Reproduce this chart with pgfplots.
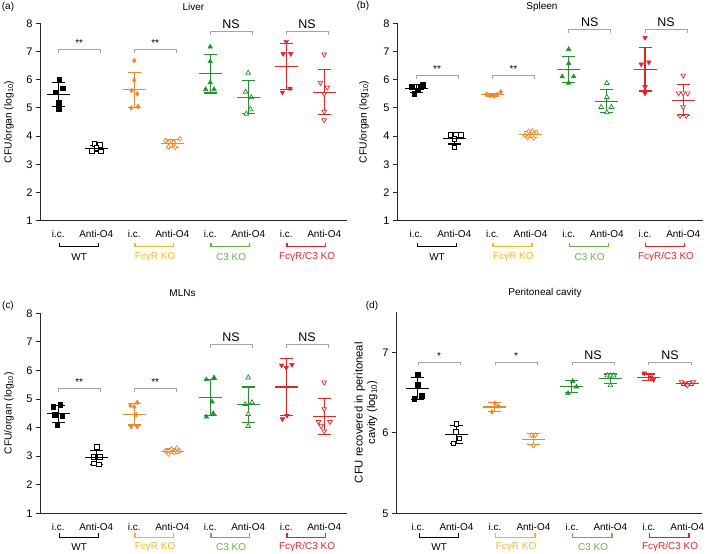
\documentclass[border=0pt]{standalone}
\usepackage{fontspec}
\setmainfont{Liberation Sans}
\usepackage{pgfplots}
\pgfplotsset{compat=1.18}
\definecolor{cor}{RGB}{240,135,45}
\definecolor{cyl}{RGB}{247,182,40}
\definecolor{cgr}{RGB}{35,145,45}
\definecolor{clg}{RGB}{105,180,70}
\definecolor{cre}{RGB}{232,35,40}
\definecolor{sgr}{RGB}{165,165,165}
\pgfplotsset{
 panel/.style={scale only axis, clip=false, anchor=south west,
  axis x line*=bottom, axis y line*=left,
  axis line style={line width=0.9bp, black!85},
  tick align=outside, major tick length=4bp,
  ytick style={line width=0.9bp, black!85},
  xtick={0,...,7},
  xticklabels={i.c.,Anti-O4,i.c.,Anti-O4,i.c.,Anti-O4,i.c.,Anti-O4},
  xtick style={draw=none},
  xticklabel style={font=\fontsize{10}{12}\selectfont, yshift=-2bp},
  yticklabel style={font=\fontsize{11}{12}\selectfont},
  /pgf/number format/assume math mode=true,
  title style={font=\fontsize{10}{12}\selectfont, at={(axis description cs:0.5,1)}, anchor=center},
  ylabel style={font=\fontsize{10.3}{12}\selectfont, anchor=center}},
 wtf/.style={only marks, mark=square*, mark size=2.3bp, mark options={draw=black, fill=black}},
 wto/.style={only marks, mark=square*, mark size=2.3bp, mark options={draw=black, fill=white, line width=0.7bp}},
 fcf/.style={only marks, mark=diamond*, mark size=2.4bp, mark options={draw=cor, fill=cor}},
 fco/.style={only marks, mark=diamond*, mark size=2.4bp, mark options={draw=cor, fill=white, line width=0.7bp}},
 c3f/.style={only marks, mark=triangle*, mark size=2.7bp, mark options={draw=cgr, fill=cgr}},
 c3o/.style={only marks, mark=triangle*, mark size=2.7bp, mark options={draw=cgr, fill=white, line width=0.7bp}},
 rdf/.style={only marks, mark=triangle*, mark size=2.7bp, mark options={rotate=180, draw=cre, fill=cre}},
 rdo/.style={only marks, mark=triangle*, mark size=2.7bp, mark options={rotate=180, draw=cre, fill=white, line width=0.7bp}},
}
% mean +- SD
\newcommand{\msd}[4]{\addplot[#4, line width=1.1bp, mark=-, mark size=11.5bp,
  error bars/.cd, y dir=both, y explicit,
  error bar style={line width=1.1bp, #4},
  error mark options={rotate=90, #4, mark size=6.5bp, line width=1.1bp}]
  coordinates {(#1,#2) +- (0,#3)};}
% significance bracket: x0, xmid, x1, y, text
\newcommand{\br}[3]{\draw[sgr, line width=0.8bp] ([yshift=-3.5bp]axis cs:#1,#3) -- (axis cs:#1,#3) -- (axis cs:#2,#3) -- ([yshift=-3.5bp]axis cs:#2,#3);}
\newcommand{\sig}[5]{\br{#1}{#3}{#4}
  \node[anchor=south, inner sep=2.5bp, font=\fontsize{10}{12}\selectfont] at (axis cs:#2,#4) {#5};}
\newcommand{\nsig}[4]{\br{#1}{#3}{#4}
  \node[anchor=south, inner sep=2.5bp, font=\fontsize{12.5}{14}\selectfont] at (axis cs:#2,#4) {NS};}
% group bracket below axis: x0, xmid, x1, ymin, colour, label
\newcommand{\brA}{-22bp}\newcommand{\brB}{-26bp}\newcommand{\nmY}{-36bp}
\newcommand{\gl}[6]{\draw[#5, line width=1.4bp] ([yshift=\brA]axis cs:#1,#4) -- ([yshift=\brB]axis cs:#1,#4) -- ([yshift=\brB]axis cs:#3,#4) -- ([yshift=\brA]axis cs:#3,#4);
  \node[#5, font=\fontsize{10}{12}\selectfont] at ([yshift=\nmY]axis cs:#2,#4) {#6};}
\newcommand{\groups}[1]{\gl{0.04}{0.55}{1.06}{#1}{black}{WT}
  \gl{2.02}{2.55}{3.04}{#1}{cyl}{FcγR KO}
  \gl{4.02}{4.55}{5.04}{#1}{clg}{C3 KO}
  \gl{6.02}{6.55}{7.04}{#1}{cre}{FcγR/C3 KO}}
\begin{document}
\begin{tikzpicture}
\useasboundingbox (0,0) rectangle (709bp,554bp);
% ---------- (a) Liver ----------
\begin{axis}[panel, at={(40bp,333.3bp)}, width=307bp, height=197.4bp,
  xmin=-0.48, xmax=7.6, ymin=1, ymax=8, ytick={1,...,8},
  title={Liver}, title style={yshift=10.5bp},
  ylabel={CFU/organ (log\textsubscript{10})},
  ylabel style={at={(axis description cs:-0.101,0.5)}}]
\addplot[wtf] coordinates {(0.03,6.01)(0.12,5.70)(-0.08,5.55)(0.02,5.19)(0.02,4.96)};
\msd{0}{5.48}{0.42}{black}
\addplot[wto] coordinates {(0.95,3.72)(1.1,3.68)(1.0,3.58)(0.88,3.47)(1.12,3.46)};
\msd{1}{3.56}{0.12}{black}
\addplot[fcf] coordinates {(2.0,6.68)(2.0,5.98)(1.93,5.62)(2.08,5.50)(1.92,5.00)(2.1,5.05)};
\msd{2}{5.64}{0.63}{cor}
\addplot[fco] coordinates {(2.82,3.84)(2.92,3.80)(3.05,3.78)(3.2,3.90)(2.9,3.62)(3.08,3.60)};
\msd{3}{3.74}{0.13}{cor}
\addplot[c3f] coordinates {(4.0,7.17)(4.0,6.65)(4.0,5.90)(3.88,5.66)(4.1,5.66)};
\msd{4}{6.21}{0.68}{cgr}
\addplot[c3o] coordinates {(5.0,6.24)(4.93,5.57)(5.08,5.37)(5.06,4.95)(4.95,4.79)};
\msd{5}{5.38}{0.58}{cgr}
\addplot[rdf] coordinates {(6.0,7.35)(5.92,6.92)(6.12,6.92)(6.1,5.69)(5.9,5.55)};
\msd{6}{6.47}{0.82}{cre}
\addplot[rdo] coordinates {(7.0,6.90)(6.9,5.90)(7.08,5.73)(7.0,5.49)(7.0,4.87)(7.0,4.57)};
\msd{7}{5.56}{0.81}{cre}
\sig{0}{0.55}{1.1}{7.08}{**}
\sig{2}{2.55}{3.1}{7.08}{**}
\nsig{4}{4.55}{5.1}{7.7}
\nsig{6}{6.55}{7.1}{7.7}
\groups{1}
\end{axis}
% ---------- (b) Spleen ----------
\begin{axis}[panel, at={(397bp,333.3bp)}, width=306bp, height=197.4bp,
  xmin=-0.5, xmax=7.52, ymin=1, ymax=8, ytick={1,...,8},
  title={Spleen}, title style={yshift=10.5bp, xshift=-8bp},
  ylabel={CFU/organ (log\textsubscript{10})},
  ylabel style={at={(axis description cs:-0.108,0.5)}}]
\addplot[wtf] coordinates {(-0.11,5.75)(0.12,5.75)(0.18,5.82)(-0.05,5.51)(0.05,5.63)};
\msd{0}{5.69}{0.13}{black}
\addplot[wto] coordinates {(0.9,4.05)(1.05,4.05)(1.17,4.05)(1.0,3.90)(1.0,3.60)};
\msd{1}{3.91}{0.19}{black}
\addplot[fcf] coordinates {(1.85,5.48)(1.95,5.43)(2.05,5.42)(2.12,5.47)(2.22,5.57)};
\msd{2}{5.47}{0.05}{cor}
\addplot[fco] coordinates {(2.85,4.03)(2.95,4.17)(3.05,4.18)(3.15,4.13)(2.92,3.95)(3.08,3.93)};
\msd{3}{4.05}{0.11}{cor}
\addplot[c3f] coordinates {(4.0,7.08)(4.0,6.58)(3.83,6.11)(4.13,6.11)(4.0,5.88)};
\msd{4}{6.36}{0.47}{cgr}
\addplot[c3o] coordinates {(5.0,5.88)(5.0,5.38)(4.85,5.03)(5.12,5.03)(5.0,4.84)};
\msd{5}{5.24}{0.41}{cgr}
\addplot[rdf] coordinates {(6.0,7.49)(5.9,6.55)(6.1,6.62)(6.0,5.75)(6.0,5.52)};
\msd{6}{6.37}{0.77}{cre}
\addplot[rdo] coordinates {(7.0,6.15)(6.88,5.52)(7.0,5.52)(7.12,5.52)(7.0,5.03)(6.92,4.72)(7.08,4.72)};
\msd{7}{5.27}{0.55}{cre}
\sig{0}{0.55}{1.1}{6.15}{**}
\sig{2}{2.55}{3.1}{6.15}{**}
\nsig{4}{4.55}{5.1}{7.79}
\nsig{6}{6.55}{7.1}{7.79}
\groups{1}
\end{axis}
\renewcommand{\brA}{-20bp}\renewcommand{\brB}{-24bp}\renewcommand{\nmY}{-34bp}
% ---------- (c) MLNs ----------
\begin{axis}[panel, at={(40bp,40.7bp)}, width=307bp, height=200bp,
  xmin=-0.48, xmax=7.6, ymin=1, ymax=8, ytick={1,...,8},
  title={MLNs}, title style={yshift=14bp, xshift=-11bp},
  ylabel={CFU/organ (log\textsubscript{10})},
  ylabel style={at={(axis description cs:-0.101,0.5)}}]
\addplot[wtf] coordinates {(-0.13,4.74)(0.05,4.80)(-0.1,4.45)(0.1,4.40)(-0.03,4.09)};
\msd{0}{4.48}{0.29}{black}
\addplot[wto] coordinates {(1.02,3.32)(0.92,2.97)(1.1,2.97)(0.93,2.75)(1.07,2.72)};
\msd{1}{2.95}{0.24}{black}
\addplot[fcf] coordinates {(1.9,4.77)(2.0,4.72)(2.08,4.88)(2.05,4.45)(1.92,4.03)(2.08,4.03)};
\msd{2}{4.47}{0.38}{cor}
\addplot[fco] coordinates {(2.82,3.18)(2.9,3.08)(2.98,3.25)(3.05,3.12)(3.12,3.28)(3.2,3.18)};
\msd{3}{3.17}{0.08}{cor}
\addplot[c3f] coordinates {(4.1,5.75)(3.9,5.68)(4.05,4.90)(4.08,4.50)(3.9,4.38)};
\msd{4}{5.05}{0.63}{cgr}
\addplot[c3o] coordinates {(5.0,5.75)(4.92,4.82)(5.1,4.88)(5.0,4.47)(5.0,4.05)};
\msd{5}{4.80}{0.62}{cgr}
\addplot[rdf] coordinates {(5.88,6.18)(6.0,6.1)(6.15,6.2)(5.9,4.30)(6.02,4.42)};
\msd{6}{5.42}{0.99}{cre}
\addplot[rdo] coordinates {(7.0,5.58)(7.0,4.65)(6.85,4.2)(7.15,4.2)(6.92,4.05)(7.0,3.87)};
\msd{7}{4.40}{0.63}{cre}
\sig{0}{0.55}{1.1}{5.37}{**}
\sig{2}{2.55}{3.1}{5.37}{**}
\nsig{4}{4.55}{5.1}{6.9}
\nsig{6}{6.55}{7.1}{6.9}
\groups{1}
\end{axis}
% ---------- (d) Peritoneal cavity ----------
\begin{axis}[panel, at={(396bp,40.7bp)}, width=306bp, height=201.3bp,
  xmin=-0.57, xmax=7.38, ymin=5, ymax=7.5, ytick={5,6,7},
  title={Peritoneal cavity}, title style={yshift=13bp, xshift=-4bp},
  ylabel={CFU recovered in peritoneal\\cavity (log\textsubscript{10})},
  ylabel style={align=center, font=\fontsize{11.3}{12.5}\selectfont, at={(axis description cs:-0.098,0.5)}}]
\addplot[wtf] coordinates {(0.0,6.73)(0.0,6.60)(-0.1,6.42)(0.1,6.46)};
\msd{0}{6.55}{0.14}{black}
\addplot[wto] coordinates {(1.0,6.11)(0.98,6.01)(1.08,5.93)(0.92,5.87)};
\msd{1}{5.98}{0.11}{black}
\addplot[fcf] coordinates {(2.0,6.37)(2.08,6.33)(1.92,6.26)};
\msd{2}{6.32}{0.055}{cor}
\addplot[fco] coordinates {(2.95,5.97)(3.05,5.97)(3.0,5.84)};
\msd{3}{5.92}{0.07}{cor}
\addplot[c3f] coordinates {(4.02,6.64)(4.12,6.57)(3.9,6.49)};
\msd{4}{6.57}{0.075}{cgr}
\addplot[c3o] coordinates {(4.92,6.71)(5.0,6.71)(5.08,6.71)(5.0,6.59)};
\msd{5}{6.67}{0.06}{cgr}
\addplot[rdf] coordinates {(5.88,6.74)(6.05,6.69)(6.12,6.66)};
\msd{6}{6.69}{0.04}{cre}
\addplot[rdo] coordinates {(6.85,6.63)(6.95,6.61)(7.05,6.62)(7.15,6.63)(7.0,6.59)};
\msd{7}{6.61}{0.02}{cre}
\sig{0}{0.55}{1.1}{6.88}{*}
\sig{2}{2.55}{3.1}{6.88}{*}
\nsig{4}{4.55}{5.1}{6.88}
\nsig{6}{6.55}{7.1}{6.88}
\groups{5}
\end{axis}
\node[font=\fontsize{10}{12}\selectfont] at (8bp,547bp) {(a)};
\node[font=\fontsize{10}{12}\selectfont] at (363bp,548bp) {(b)};
\node[font=\fontsize{10}{12}\selectfont] at (8bp,248bp) {(c)};
\node[font=\fontsize{10}{12}\selectfont] at (372bp,248bp) {(d)};
\end{tikzpicture}
\end{document}
